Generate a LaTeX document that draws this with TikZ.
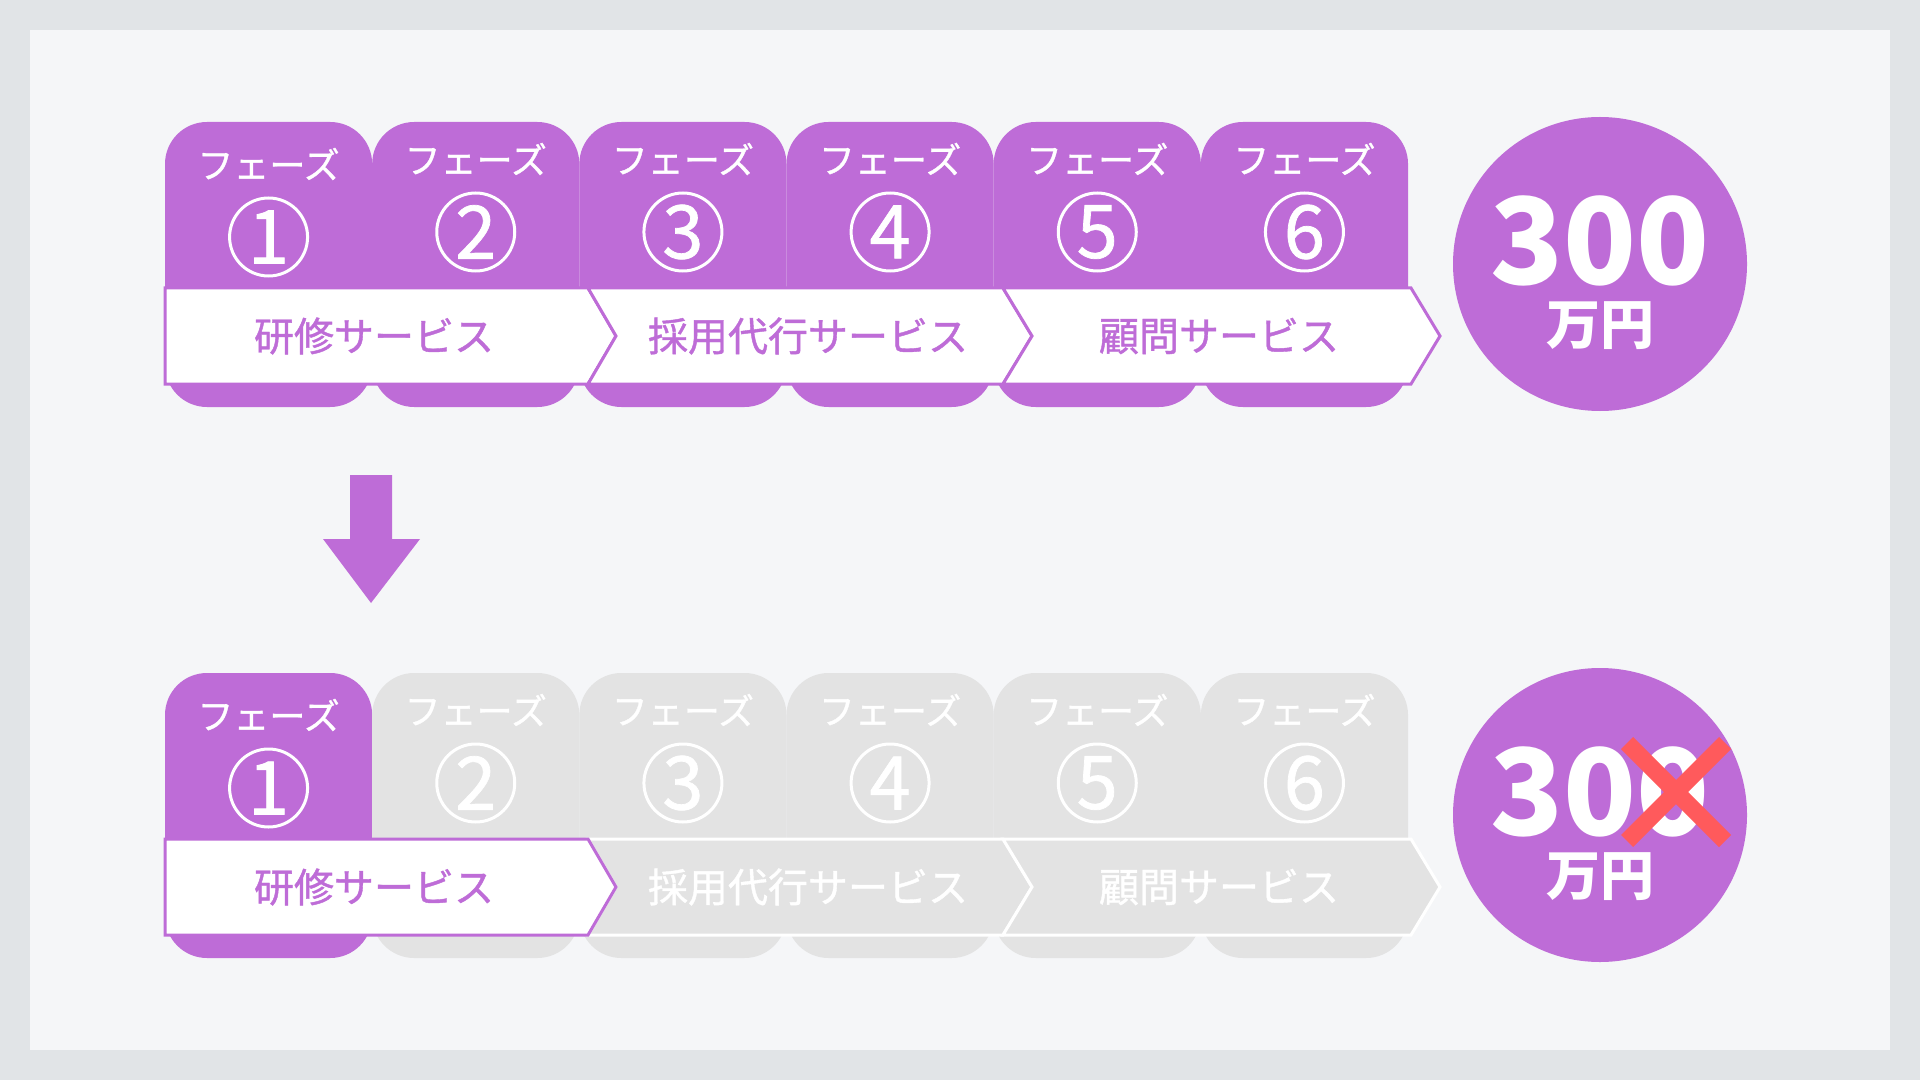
\documentclass[tikz,border=0pt]{standalone}
\usepackage{fontspec}
\setmainfont{Noto Sans CJK JP}
\newfontfamily\jpmed{Noto Sans CJK JP}[FakeBold=1.0]
\definecolor{pur}{HTML}{BE6CD7}
\definecolor{gry}{HTML}{E3E3E3}
\definecolor{panel}{HTML}{F5F6F8}
\definecolor{framec}{HTML}{E1E4E7}
\definecolor{xred}{HTML}{FF5A5C}
\tikzset{
  phasetxt/.style={inner sep=0pt, text=white, font=\jpmed\fontsize{18pt}{21pt}\selectfont},
  ring/.style={circle, draw=white, line width=1.5pt, minimum size=39pt, inner sep=0pt},
  numtxt/.style={inner sep=0pt, text=white, font=\jpmed\fontsize{37pt}{40pt}\selectfont},
  bantxt/.style={inner sep=0pt, font=\jpmed\fontsize{20pt}{24pt}\selectfont},
  activebar/.style={fill=white, draw=pur, line width=1.5pt, line join=miter},
  idlebar/.style={fill=gry, draw=white, line width=1.5pt, line join=miter},
  bigcirc/.style={circle, fill=pur, minimum size=147pt, inner sep=0pt},
  bignum/.style={inner sep=0pt, text=white, font=\fontsize{60pt}{64pt}\selectfont\bfseries},
  unittxt/.style={inner sep=0pt, text=white, font=\fontsize{27pt}{30pt}\selectfont\bfseries},
}
\begin{document}
\begin{tikzpicture}[x=0.5pt,y=-0.5pt]
\fill[framec] (0,0) rectangle (1920,1080);
\useasboundingbox (0,0) rectangle (1920,1080);
\fill[panel] (30,30) rectangle (1890,1050);

% phase cards
\foreach \r/\dy in {0/0,1/551}{
  \foreach \i in {1,...,6}{
    \pgfmathsetmacro\xo{165+(\i-1)*207.17}
    \pgfmathsetmacro\xc{\xo+103.58}
    \pgfmathsetmacro\off{(\i==1)*5}
    \ifnum\r=1 \ifnum\i>1 \def\cc{gry}\else\def\cc{pur}\fi\else\def\cc{pur}\fi
    \fill[\cc, rounded corners=21pt] ({\xo},{122+\dy}) rectangle ++(207.17,285);
    \node[phasetxt] (ph\r\i) at ({\xc},{159+\dy+\off}) {フェーズ};
    \node[ring] (rg\r\i) at ({\xc},{232+\dy+\off}) {};
    \node[numtxt] (nm\r\i) at (rg\r\i) {\i};
  }
}

% top row banner
\draw[activebar] (165,288) -- (588,288) -- (616,336) -- (588,384) -- (165,384) -- cycle;
\draw[activebar] (588,288) -- (1003,288) -- (1032,336) -- (1003,384) -- (588,384) -- (616,336) -- cycle;
\draw[activebar] (1003,288) -- (1411,288) -- (1440,336) -- (1411,384) -- (1003,384) -- (1032,336) -- cycle;
\node[bantxt, text=pur] (b01) at (374,336) {研修サービス};
\node[bantxt, text=pur] (b02) at (808,336) {採用代行サービス};
\node[bantxt, text=pur] (b03) at (1219,336) {顧問サービス};

% bottom row banner
\draw[idlebar] (588,839) -- (1003,839) -- (1032,887) -- (1003,935) -- (588,935) -- (616,887) -- cycle;
\draw[idlebar] (1003,839) -- (1411,839) -- (1440,887) -- (1411,935) -- (1003,935) -- (1032,887) -- cycle;
\draw[activebar] (165,839) -- (588,839) -- (616,887) -- (588,935) -- (165,935) -- cycle;
\node[bantxt, text=pur] (b11) at (374,887) {研修サービス};
\node[bantxt, text=white] (b12) at (808,887) {採用代行サービス};
\node[bantxt, text=white] (b13) at (1219,887) {顧問サービス};

% down arrow
\fill[pur] (350,475) -- (392,475) -- (392,539) -- (420,539) -- (371,603) -- (323,539) -- (350,539) -- cycle;

% price circles
\node[bigcirc] (m0) at (1600,264) {};
\node[bignum] (n0) at (1600,241) {300};
\node[unittxt] (u0) at (1600,326) {万円};
\node[bigcirc] (m1) at (1600,815) {};
\node[bignum] (n1) at (1600,792) {300};
\node[unittxt] (u1) at (1600,877) {万円};
\coordinate (xa) at (1627,743);
\coordinate (xb) at (1725,841);
\coordinate (xc) at (1725,743);
\coordinate (xd) at (1627,841);
\draw[xred, line width=8.5pt] (xa) -- (xb);
\draw[xred, line width=8.5pt] (xc) -- (xd);
\end{tikzpicture}
\end{document}
